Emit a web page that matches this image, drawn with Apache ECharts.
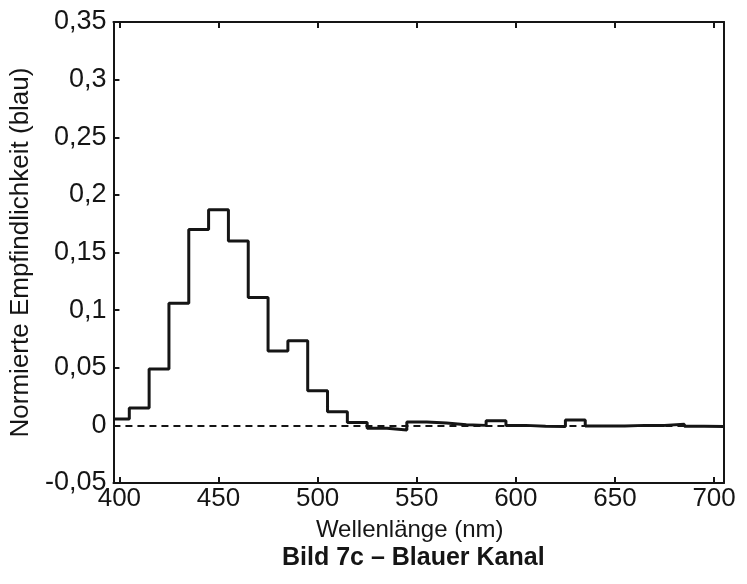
<!DOCTYPE html>
<html>
<head>
<meta charset="utf-8">
<script src="https://cdn.jsdelivr.net/npm/echarts@6/dist/echarts.min.js"></script>
<style>
  html, body { margin: 0; background: #fff; }
  #chart { width: 747px; height: 584px; }
</style>
</head>
<body>
<div id="chart"></div>
<script>
// bin centres (nm) and normalised sensitivity
var wavelengths = [400, 410, 420, 430, 440, 450, 460, 470, 480, 490,
                   500, 510, 520, 530, 540, 550, 560, 570, 580, 590,
                   600, 610, 620, 630, 640, 650, 660, 670, 680, 690, 700];
var sensitivity = [0.0055, 0.015, 0.049, 0.106, 0.170, 0.187, 0.160, 0.111, 0.0645, 0.0734,
                   0.030, 0.0118, 0.0025, -0.0025, -0.004, 0.003, 0.002, 0.0005, 0.0, 0.004,
                   0.0, -0.0008, -0.001, 0.0046, -0.0005, -0.0005, 0.0, 0.0, 0.001, -0.0008, -0.001];
var xTicks = [400, 450, 500, 550, 600, 650, 700];

var xMin = 397, xMax = 705, binWidth = 10;

var chartDom = document.getElementById('chart');
var myChart = echarts.init(chartDom);
var option;

// step outline: each bin starts half a bin before its centre
var stepData = wavelengths.map(function (w, i) {
    return [Math.max(xMin, w - binWidth / 2), sensitivity[i]];
});
stepData.push([xMax, sensitivity[sensitivity.length - 1]]);

var font = "'Liberation Sans', Arial, sans-serif";
var ink = '#151515';

function comma(v) {
    return String(+v.toFixed(2)).replace('.', ',');
}

option = {
    backgroundColor: '#fff',
    textStyle: { fontFamily: font, color: ink },
    title: {
        text: 'Bild 7c \u2013 Blauer Kanal',
        left: 277,
        top: 541,
        textStyle: { fontFamily: font, fontSize: 25, fontWeight: 'bold', color: ink }
    },
    grid: { left: 113, right: 23, top: 22, bottom: 101 },
    xAxis: [
        {
            type: 'value',
            min: xMin,
            max: xMax,
            name: 'Wellenl\u00e4nge (nm)',
            nameLocation: 'middle',
            nameGap: 35,
            nameTextStyle: { fontFamily: font, fontSize: 24, color: ink, padding: [0, 18, 0, 0] },
            axisLine: { onZero: false, lineStyle: { color: ink, width: 2 } },
            axisTick: { inside: true, length: 6, lineStyle: { color: ink, width: 2 }, customValues: xTicks },
            axisLabel: { fontFamily: font, fontSize: 26, color: ink, margin: 3, customValues: xTicks },
            splitLine: { show: false }
        },
        {
            type: 'value',
            position: 'top',
            min: xMin,
            max: xMax,
            axisLine: { onZero: false, lineStyle: { color: ink, width: 2 } },
            axisTick: { inside: true, length: 6, lineStyle: { color: ink, width: 2 }, customValues: xTicks },
            axisLabel: { show: false },
            splitLine: { show: false }
        }
    ],
    yAxis: [
        {
            type: 'value',
            min: -0.05,
            max: 0.35,
            interval: 0.05,
            name: 'Normierte Empfindlichkeit (blau)',
            nameLocation: 'middle',
            nameGap: 76,
            nameTextStyle: { fontFamily: font, fontSize: 26, color: ink },
            axisLine: { show: true, onZero: false, lineStyle: { color: ink, width: 2 } },
            axisTick: { show: true, inside: true, length: 6, lineStyle: { color: ink, width: 2 } },
            axisLabel: { fontFamily: font, fontSize: 27, color: ink, margin: 7, formatter: comma },
            splitLine: { show: false }
        },
        {
            type: 'value',
            position: 'right',
            min: -0.05,
            max: 0.35,
            interval: 0.05,
            axisLine: { show: true, onZero: false, lineStyle: { color: ink, width: 2 } },
            axisTick: { show: false },
            axisLabel: { show: false },
            splitLine: { show: false }
        }
    ],
    series: [
        {
            name: 'Blauer Kanal',
            type: 'line',
            step: 'end',
            data: stepData,
            showSymbol: false,
            lineStyle: { color: ink, width: 3 },
            markLine: {
                silent: true,
                symbol: 'none',
                label: { show: false },
                lineStyle: { color: ink, width: 2, type: [7, 5] },
                data: [{ yAxis: 0 }]
            },
            z: 3
        }
    ]
};

option && myChart.setOption(option);
</script>
</body>
</html>
